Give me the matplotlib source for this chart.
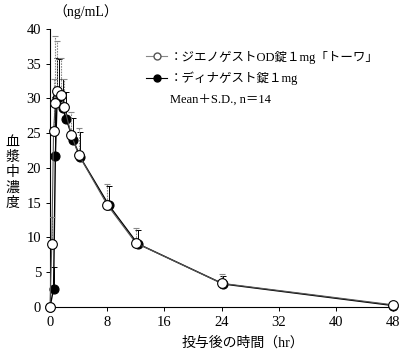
import matplotlib.pyplot as plt
from matplotlib.lines import Line2D

plt.rcParams['font.family'] = ['Liberation Serif', 'Noto Sans CJK JP']

# time points (hr)
hours = [0, 0.25, 0.5, 0.75, 1, 1.5, 2, 3, 4, 8, 12, 24, 48]
# ジエノゲストOD錠1mg「トーワ」
od_mean = [0, 9.0, 25.3, 29.3, 31.0, 30.5, 28.7, 24.7, 21.9, 14.7, 9.2, 3.4, 0.3]
od_sd = [0, 4.0, 7.5, 9.7, 7.2, 5.3, 4.1, 3.3, 3.9, 3.0, 2.2, 1.4, 0.3]
# ディナゲスト錠1mg
ref_mean = [0, 2.6, 21.7, 30.0, 30.2, 28.6, 27.1, 24.0, 21.5, 14.6, 9.1, 3.3, 0.2]
ref_sd = [0, 3.2, 8.5, 5.8, 5.5, 4.2, 3.8, 3.2, 3.6, 2.8, 2.0, 1.2, 0.2]

shift = 0.25  # small horizontal offset so both series can be seen
ref_hours = [h + shift if 0 < h < 48 else h for h in hours]

fig = plt.figure(figsize=(4.0, 3.52), dpi=100)
ax = fig.add_axes([0.125, 0.128, 0.858, 0.79])

# reference product: black solid error bars
ax.errorbar(ref_hours, ref_mean, yerr=[[0] * len(ref_sd), ref_sd], fmt='none',
            ecolor='black', elinewidth=0.7, capsize=2, capthick=0.7, zorder=2)
ax.plot(ref_hours, ref_mean, '-o', color='black', lw=1.0, ms=6.5,
        mfc='black', mec='black', mew=0.8, zorder=3, clip_on=False)

# test product: grey dashed error bars
eb2 = ax.errorbar(hours, od_mean, yerr=[[0] * len(od_sd), od_sd], fmt='none',
                  ecolor='#888888', elinewidth=0.8, capsize=2, capthick=0.8, zorder=4)
eb2[2][0].set_linestyle((0, (1.5, 1)))
ax.plot(hours, od_mean, '-o', color='#555555', lw=0.8, ms=7, mfc='white',
        mec='black', mew=0.8, zorder=5, clip_on=False)

ax.set_xlim(0, 48)
ax.set_ylim(0, 40)
ax.set_xticks([0, 8, 16, 24, 32, 40, 48])
ax.set_yticks(range(0, 41, 5))
ax.spines['top'].set_visible(False)
ax.spines['right'].set_visible(False)
ax.tick_params(labelsize=10.5, length=3, width=0.7, direction='out')
for s in ax.spines.values():
    s.set_linewidth(0.8)

fig.text(0.607, 0.027, '投与後の時間（hr）', fontsize=10, ha='center', va='center')
fig.text(0.215, 0.968, '（ng/mL）', fontsize=10, ha='center', va='center')
fig.text(0.032, 0.51, '血\n漿\n中\n濃\n度', fontsize=10, ha='center', va='center',
         linespacing=1.1, family='Noto Sans CJK JP')

handles = [
    Line2D([], [], color='#888888', lw=0.8, marker='o', ms=5, mfc='white', mec='#555555'),
    Line2D([], [], color='black', lw=0.8, marker='o', ms=5, mfc='black', mec='black'),
    Line2D([], [], color='none'),
]
labels = ['：ジエノゲストOD錠１mg「トーワ」', '：ディナゲスト錠１mg', 'Mean＋S.D., n＝14']
ax.legend(handles, labels, loc='upper left', bbox_to_anchor=(0.265, 0.94), frameon=False,
          fontsize=9, handlelength=1.7, handletextpad=0.2, labelspacing=0.65,
          borderaxespad=0)

fig.savefig('out.png', dpi=100)
